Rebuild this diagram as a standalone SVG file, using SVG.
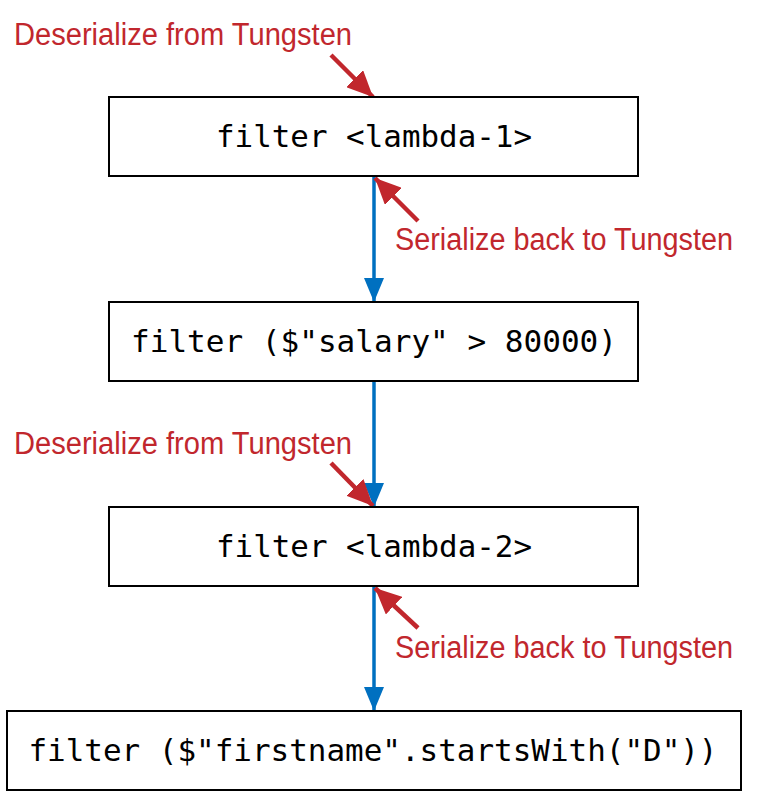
<svg xmlns="http://www.w3.org/2000/svg" width="762" height="796" viewBox="0 0 762 796">
<defs>
<style>
.box{fill:#fff;stroke:#000;stroke-width:2}
.code{font-family:"DejaVu Sans Mono","Liberation Mono",monospace;font-size:30px;fill:#000;text-anchor:middle}
.note{font-family:"Liberation Sans","Noto Sans",sans-serif;font-size:31px;fill:#c1272d}
.flow{stroke:#0070c0;stroke-width:3.5;fill:none}
.red{stroke:#c1272d;stroke-width:4.5;fill:none}
</style>
<marker id="blueHead" markerUnits="userSpaceOnUse" viewBox="0 0 24 20" refX="24" refY="10" markerWidth="24" markerHeight="20" orient="auto">
<path d="M0,0 L24,10 L0,20 Z" fill="#0070c0"/>
</marker>
<marker id="redHead" markerUnits="userSpaceOnUse" viewBox="0 0 26 24" refX="26" refY="12" markerWidth="26" markerHeight="24" orient="auto">
<path d="M0,0 L26,12 L0,24 Z" fill="#c1272d"/>
</marker>
</defs>
<rect width="762" height="796" fill="#fff"/>
<g id="connectors">
<line class="flow" x1="374" y1="177" x2="374" y2="302" marker-end="url(#blueHead)"/>
<line class="flow" x1="374" y1="382" x2="374" y2="507" marker-end="url(#blueHead)"/>
<line class="flow" x1="374" y1="587" x2="374" y2="711" marker-end="url(#blueHead)"/>
<line class="red" x1="331" y1="55" x2="373" y2="97" marker-end="url(#redHead)"/>
<line class="red" x1="418" y1="221" x2="375" y2="178" marker-end="url(#redHead)"/>
<line class="red" x1="331" y1="463" x2="373" y2="506" marker-end="url(#redHead)"/>
<line class="red" x1="418" y1="628" x2="375" y2="588" marker-end="url(#redHead)"/>
</g>
<g id="node1">
<rect class="box" x="109" y="97" width="529" height="79"/>
<text class="code" x="374" y="147" textLength="316" lengthAdjust="spacingAndGlyphs">filter &lt;lambda-1&gt;</text>
</g>
<g id="node2">
<rect class="box" x="109" y="302" width="529" height="79"/>
<text class="code" x="374" y="352" textLength="486" lengthAdjust="spacingAndGlyphs">filter ($"salary" &gt; 80000)</text>
</g>
<g id="node3">
<rect class="box" x="109" y="507" width="529" height="79"/>
<text class="code" x="374" y="557" textLength="316" lengthAdjust="spacingAndGlyphs">filter &lt;lambda-2&gt;</text>
</g>
<g id="node4">
<rect class="box" x="7" y="711" width="734" height="79"/>
<text class="code" x="373" y="761" textLength="689" lengthAdjust="spacingAndGlyphs">filter ($"firstname".startsWith("D"))</text>
</g>
<g id="labels">
<text class="note" x="14" y="45" textLength="338" lengthAdjust="spacingAndGlyphs">Deserialize from Tungsten</text>
<text class="note" x="395" y="250" textLength="338" lengthAdjust="spacingAndGlyphs">Serialize back to Tungsten</text>
<text class="note" x="14" y="454" textLength="338" lengthAdjust="spacingAndGlyphs">Deserialize from Tungsten</text>
<text class="note" x="395" y="658" textLength="338" lengthAdjust="spacingAndGlyphs">Serialize back to Tungsten</text>
</g>
</svg>
